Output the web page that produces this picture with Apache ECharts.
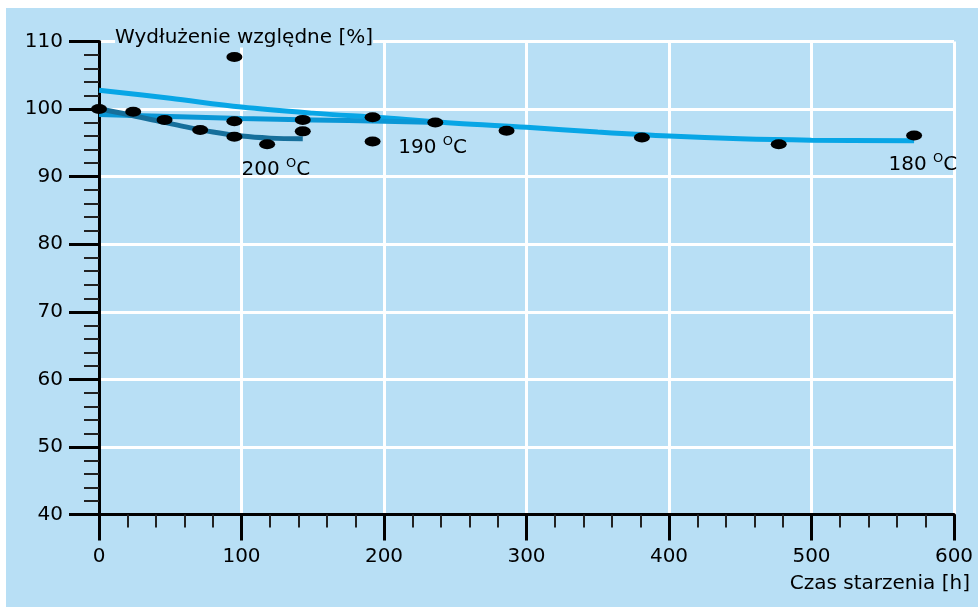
<!DOCTYPE html>
<html><head><meta charset="utf-8">
<script src="https://cdn.jsdelivr.net/npm/echarts@6/dist/echarts.min.js"></script>
<style>html,body{margin:0;padding:0;background:#fff}#c{width:978px;height:607px}</style>
</head><body><div id="c"></div>
<script>
// measured points (Czas starzenia [h], Wydłużenie względne [%])
const pointsX = [0, 24, 46, 71, 95, 95, 95, 118, 143, 143, 192, 192, 236, 286, 381, 477, 572];
const pointsY = [100, 99.6, 98.4, 96.9, 107.7, 98.2, 95.9, 94.8, 98.4, 96.7, 98.8, 95.2, 98.0, 96.8, 95.8, 94.8, 96.1];

// fitted curves
const curve180X = [0, 50, 100, 150, 200, 250, 300, 350, 400, 450, 500, 572];
const curve180Y = [102.8, 101.6, 100.3, 99.4, 98.7, 97.9, 97.3, 96.6, 96.0, 95.6, 95.4, 95.3];
const curve190X = [0, 50, 100, 150, 200, 240];
const curve190Y = [99.2, 98.9, 98.6, 98.4, 98.2, 98.0];
const curve200X = [0, 20, 40, 60, 80, 100, 120, 143];
const curve200Y = [100, 99.2, 98.3, 97.4, 96.6, 96.0, 95.7, 95.6];

// curve annotations
const tempNames = ['200', '190', '180'];
const tempX = [100, 210, 554];
const tempY = [91, 94.2, 91.7];

const xTicks = { min: 0, max: 600, interval: 100 };
const yTicks = { min: 40, max: 110, interval: 10 };

const FONT = 'DejaVu Sans, Liberation Sans, Arial, sans-serif';
const BG = '#b8dff5';

const pairs = (xs, ys) => xs.map((x, i) => [x, ys[i]]);

const tempLabel = (i) => ({
  coord: [tempX[i], tempY[i]],
  value: tempNames[i],
  label: {
    show: true, position: 'right', distance: 0,
    formatter: '{n|' + tempNames[i] + ' }{s|O}{n|C}',
    rich: {
      n: { fontSize: 20, color: '#000', fontFamily: FONT },
      s: { fontSize: 13, color: '#000', fontFamily: FONT, padding: [0, 0, 13, 0] }
    }
  }
});

const lineSeries = (name, xs, ys, color, idx) => ({
  name, type: 'line', smooth: 0.35, showSymbol: false, silent: true,
  data: pairs(xs, ys),
  lineStyle: { color, width: 5 },
  z: 2,
  markPoint: { symbol: 'circle', symbolSize: 0, silent: true, data: [tempLabel(idx)] }
});

const chart = echarts.init(document.getElementById('c'), null, { renderer: 'canvas' });
chart.setOption({
  backgroundColor: BG,
  animation: false,
  textStyle: { fontFamily: FONT },
  graphic: [
    { type: 'rect', left: 0, top: 0, shape: { width: 978, height: 8 }, style: { fill: '#fff' }, z: 100 },
    { type: 'rect', left: 0, top: 0, shape: { width: 6, height: 607 }, style: { fill: '#fff' }, z: 100 }
  ],
  grid: { left: 99, right: 24, top: 41.5, bottom: 92.5, outerBoundsMode: 'none', containLabel: false },
  xAxis: {
    type: 'value', min: xTicks.min, max: xTicks.max, interval: xTicks.interval,
    name: 'Czas starzenia [h]', nameLocation: 'end', nameGap: 16,
    nameTextStyle: { fontSize: 20, color: '#000', align: 'right', verticalAlign: 'top', padding: [59, 0, 0, 0], fontFamily: FONT },
    axisLine: { show: true, onZero: false, lineStyle: { color: '#000', width: 3 } },
    axisTick: { show: true, length: 26, lineStyle: { color: '#000', width: 3 } },
    minorTick: { show: true, splitNumber: 5, length: 13, lineStyle: { color: '#222', width: 2 } },
    axisLabel: { fontSize: 20, color: '#000', margin: 32, fontFamily: FONT },
    splitLine: { show: true, lineStyle: { color: '#fff', width: 3 } }
  },
  yAxis: {
    type: 'value', min: yTicks.min, max: yTicks.max, interval: yTicks.interval,
    name: '{a|}{b|Wydłużenie względne [%]}', nameLocation: 'end', nameGap: 4,
    nameTextStyle: {
      align: 'left', verticalAlign: 'middle', fontFamily: FONT,
      rich: {
        a: { width: 16 },
        b: { fontSize: 20, color: '#000', backgroundColor: BG, fontFamily: FONT }
      }
    },
    axisLine: { show: true, onZero: false, lineStyle: { color: '#000', width: 3 } },
    axisTick: { show: true, length: 30, lineStyle: { color: '#000', width: 3 } },
    minorTick: { show: true, splitNumber: 5, length: 15, lineStyle: { color: '#222', width: 2 } },
    axisLabel: { fontSize: 20, color: '#000', margin: 36, fontFamily: FONT },
    splitLine: { show: true, lineStyle: { color: '#fff', width: 3 } }
  },
  series: [
    lineSeries('180 °C', curve180X, curve180Y, '#08a6e6', 2),
    lineSeries('190 °C', curve190X, curve190Y, '#0a97d6', 1),
    lineSeries('200 °C', curve200X, curve200Y, '#166f9b', 0),
    {
      name: 'pomiary', type: 'scatter', silent: true,
      symbol: 'circle', symbolSize: [16, 10],
      itemStyle: { color: '#000', opacity: 1 },
      data: pairs(pointsX, pointsY), z: 5
    }
  ]
});
</script></body></html>
